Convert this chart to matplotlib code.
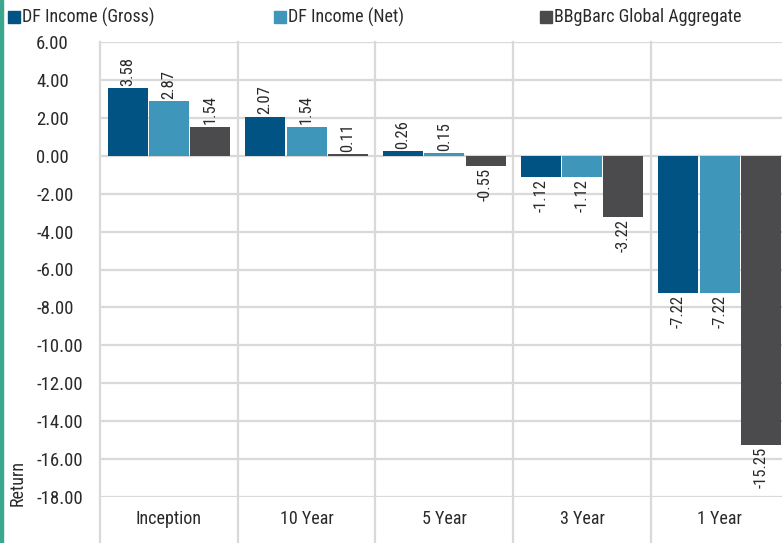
import matplotlib
matplotlib.use("Agg")
import matplotlib.pyplot as plt
from matplotlib.patches import Rectangle
from matplotlib.lines import Line2D
from matplotlib import font_manager as fm
import numpy as np

categories = ["Inception", "10 Year", "5 Year", "3 Year", "1 Year"]
series_names = ["DF Income (Gross)", "DF Income (Net)", "BBgBarc Global Aggregate"]
gross = [3.58, 2.07, 0.26, -1.12, -7.22]
net = [2.87, 1.54, 0.15, -1.12, -7.22]
bench = [1.54, 0.11, -0.55, -3.22, -15.25]
y_ticks = [6, 4, 2, 0, -2, -4, -6, -8, -10, -12, -14, -16, -18]


def _is_regular(f):
    fn = f.fname.lower().split("/")[-1]
    bad = ("italic", "oblique", "bold", "light", "thin", "medium", "black", "semi", "extra")
    return f.style == "normal" and f.weight in (400, "normal", "regular") and \
        not any(b in fn for b in bad)


fp_path = None
cands = [f for f in fm.fontManager.ttflist if _is_regular(f)]
for pref in ("Roboto Condensed", "Liberation Sans Narrow", "Narrow", "Condensed"):
    for f in cands:
        if pref in f.name or pref.lower() in f.fname.lower():
            fp_path = f.fname
            break
    if fp_path:
        break
if fp_path is None:
    for f in cands:
        if str(f.stretch) in ("condensed", "semi-condensed"):
            fp_path = f.fname
            break


def fp(size):
    if fp_path is not None:
        return fm.FontProperties(fname=fp_path, size=size)
    return fm.FontProperties(family=["Roboto", "DejaVu Sans"], size=size * 0.82)


colors = ["#005383", "#3e96ba", "#4b4b4d"]
grid_c = "#d9d9d9"
txt_c = "#2a2a2a"

fig = plt.figure(figsize=(7.82, 5.43), dpi=100)
W, H = 782, 543
ax = fig.add_axes([100 / W, 1 - 497 / H, 688.5 / W, 455 / H])

x = np.arange(len(categories))
width = 0.29
offsets = [-0.3, 0.0, 0.3]
for vals, off, c in zip([gross, net, bench], offsets, colors):
    ax.bar(x + off, vals, width, color=c, zorder=3)
    for xi, v in zip(x + off, vals):
        if v >= 0:
            ax.annotate(f"{v:.2f}", (xi, v), xytext=(0, 1.5), textcoords="offset points",
                        rotation=90, ha="center", va="bottom", fontproperties=fp(12),
                        color=txt_c)
        else:
            ax.annotate(f"{v:.2f}", (xi, v), xytext=(0, -1.5), textcoords="offset points",
                        rotation=90, ha="center", va="top", fontproperties=fp(12),
                        color=txt_c)

ax.set_xlim(-0.5, len(categories) - 0.5)
ax.set_ylim(-18, 6)
ax.set_yticks(y_ticks)
ax.set_yticklabels([f"{t:.2f}" for t in y_ticks])
ax.set_xticks(x)
ax.set_xticklabels(categories)
for lab in ax.get_yticklabels():
    lab.set_fontproperties(fp(13.5))
    lab.set_color(txt_c)
    lab.set_horizontalalignment("left")
for lab in ax.get_xticklabels():
    lab.set_fontproperties(fp(13))
    lab.set_color(txt_c)
ax.tick_params(axis="y", length=0, pad=64 / 1.389)
ax.tick_params(axis="x", length=0, pad=9)
for s in ax.spines.values():
    s.set_visible(False)
ax.yaxis.grid(True, color=grid_c, linewidth=1.6, zorder=0)
ax.set_axisbelow(True)

for b in np.arange(-0.5, len(categories) + 0.5, 1.0):
    ln = Line2D([b, b], [-0.2, 1.0], transform=ax.get_xaxis_transform(),
                color=grid_c, linewidth=1.6, clip_on=False, zorder=1)
    ax.add_line(ln)

fig.patches.append(Rectangle((0, 0), 3 / W, 1, transform=fig.transFigure,
                             color="#3aa88e", zorder=0))

leg_x = [8, 274, 540]
for lx, name, c in zip(leg_x, series_names, colors):
    fig.patches.append(Rectangle((lx / W, 1 - 23 / H), 12 / W, 12 / H,
                                 transform=fig.transFigure, color=c))
    fig.text((lx + 14) / W, 1 - 17 / H, name, ha="left", va="center",
             fontproperties=fp(13), color=txt_c)

fig.text(18 / W, 1 - 506 / H, "Return", rotation=90, ha="center", va="bottom",
         fontproperties=fp(13), color=txt_c)

fig.savefig("out.png", dpi=100)
